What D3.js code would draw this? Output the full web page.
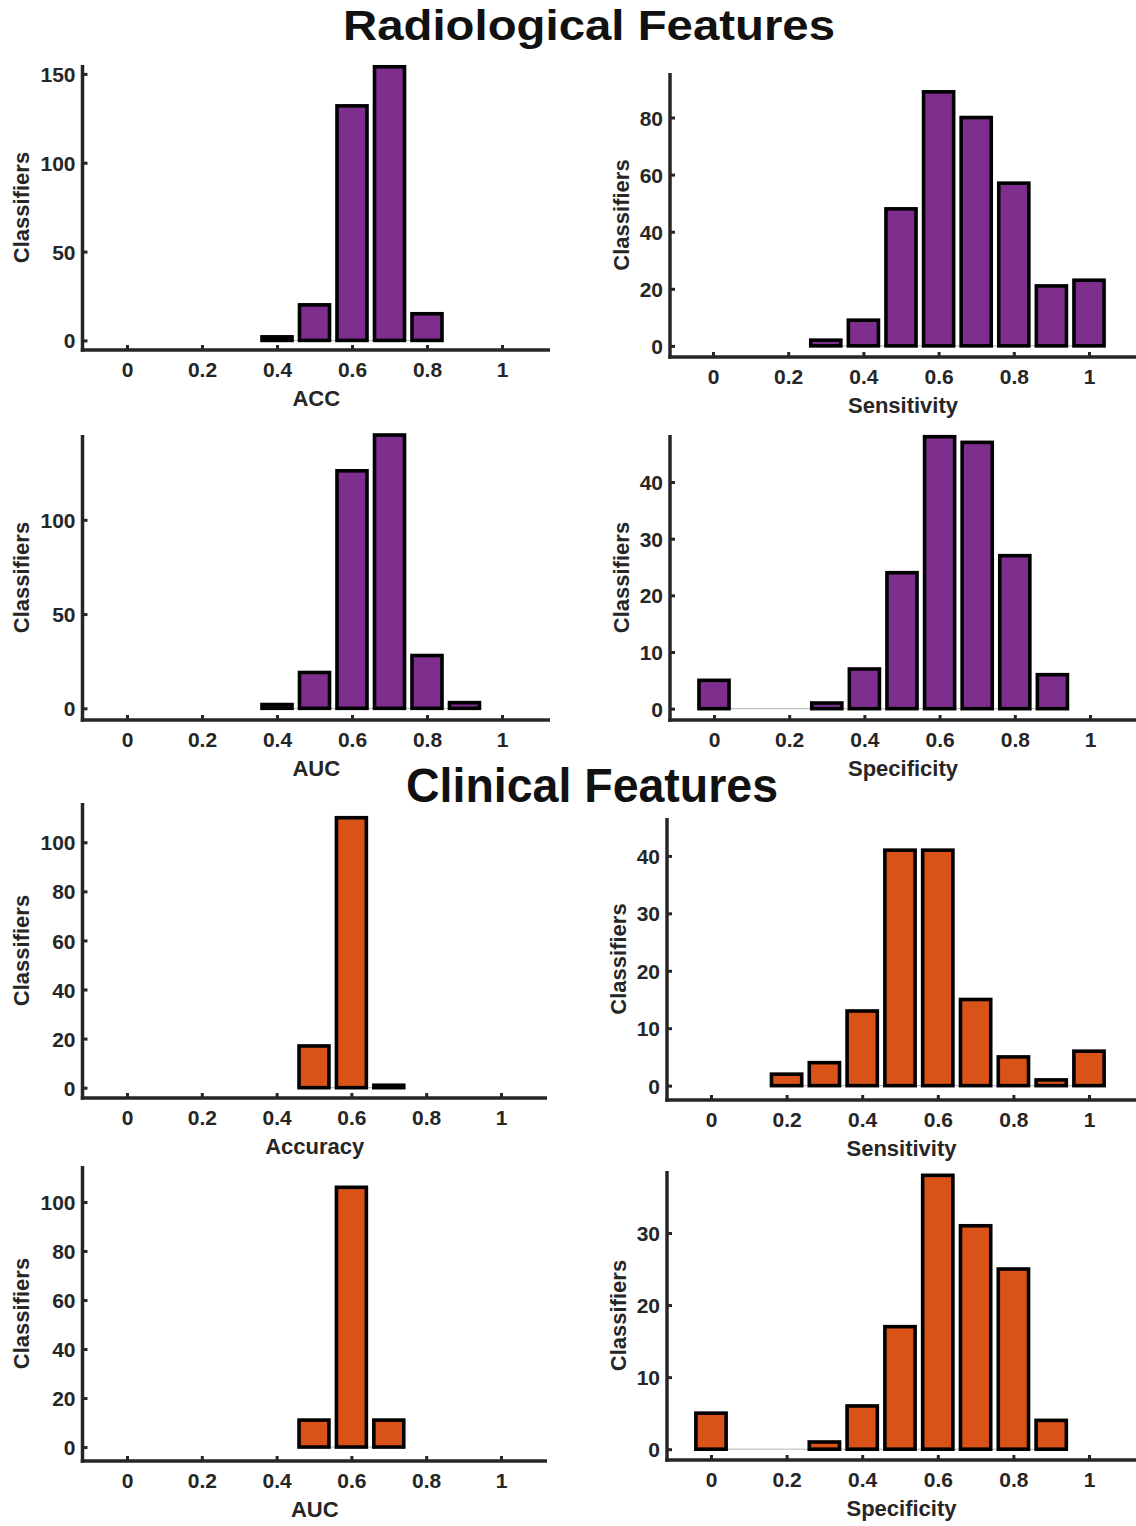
<!DOCTYPE html>
<html>
<head>
<meta charset="utf-8">
<script src="https://cdn.jsdelivr.net/npm/d3@7"></script>
<style>
  html, body { margin: 0; padding: 0; background: #fff; }
  svg { display: block; }
</style>
</head>
<body>
<svg id="chart" width="1136" height="1526"></svg>
<script>
// ---------------- DATA ----------------
const xTicks = [0, 0.2, 0.4, 0.6, 0.8, 1];
const xTickLabels = ["0", "0.2", "0.4", "0.6", "0.8", "1"];

// Radiological features
const binsRadAcc = [0.4, 0.5, 0.6, 0.7, 0.8];
const countsRadAcc = [2, 20, 132, 154, 15];
const yTicksRadAcc = [0, 50, 100, 150];
const yLimRadAcc = [-5.4, 155];

const binsRadSens = [0.3, 0.4, 0.5, 0.6, 0.7, 0.8, 0.9, 1.0];
const countsRadSens = [2, 9, 48, 89, 80, 57, 21, 23];
const yTicksRadSens = [0, 20, 40, 60, 80];
const yLimRadSens = [-3.9, 95.6];

const binsRadAuc = [0.4, 0.5, 0.6, 0.7, 0.8, 0.9];
const countsRadAuc = [2, 19, 126, 145, 28, 3];
const yTicksRadAuc = [0, 50, 100];
const yLimRadAuc = [-6.2, 145];

const binsRadSpec = [0, 0.3, 0.4, 0.5, 0.6, 0.7, 0.8, 0.9];
const countsRadSpec = [5, 1, 7, 24, 48, 47, 27, 6];
const yTicksRadSpec = [0, 10, 20, 30, 40];
const yLimRadSpec = [-2, 48.3];

// Clinical features
const binsCliAcc = [0.5, 0.6, 0.7];
const countsCliAcc = [17, 110, 1];
const yTicksCliAcc = [0, 20, 40, 60, 80, 100];
const yLimCliAcc = [-4.2, 116];

const binsCliSens = [0.2, 0.3, 0.4, 0.5, 0.6, 0.7, 0.8, 0.9, 1.0];
const countsCliSens = [2, 4, 13, 41, 41, 15, 5, 1, 6];
const yTicksCliSens = [0, 10, 20, 30, 40];
const yLimCliSens = [-2.5, 46.6];

const binsCliAuc = [0.5, 0.6, 0.7];
const countsCliAuc = [11, 106, 11];
const yTicksCliAuc = [0, 20, 40, 60, 80, 100];
const yLimCliAuc = [-5.7, 114.7];

const binsCliSpec = [0, 0.3, 0.4, 0.5, 0.6, 0.7, 0.8, 0.9];
const countsCliSpec = [5, 1, 6, 17, 38, 31, 25, 4];
const yTicksCliSpec = [0, 10, 20, 30];
const yLimCliSpec = [-1.5, 38.6];

const xLabels = ["ACC", "Sensitivity", "AUC", "Specificity", "Accuracy", "Sensitivity", "AUC", "Specificity"];
const yLabel = "Classifiers";
const titles = ["Radiological Features", "Clinical Features"];

// ---------------- STYLE / LAYOUT ----------------
const PURPLE = "#7E2F8E";
const ORANGE = "#D95319";
const AXIS = "#262626";
const FONT = "'Liberation Sans', Arial, Helvetica, sans-serif";
const BAR_W = 0.08;

// frame geometry: left/right = axis line extent, top/bottom = y extent, t0/t1 = pixel of x=0 and x=1
const frames = [
  {left: 82.5, right: 550, top: 65,  bottom: 350,  t0: 127, t1: 502},
  {left: 670,  right: 1136, top: 73, bottom: 357,  t0: 713, t1: 1089},
  {left: 82.5, right: 550, top: 435, bottom: 720,  t0: 127, t1: 502},
  {left: 670,  right: 1136, top: 435, bottom: 720, t0: 714, t1: 1090},
  {left: 82.5, right: 547, top: 803, bottom: 1098, t0: 127, t1: 501},
  {left: 667,  right: 1136, top: 818, bottom: 1100, t0: 711, t1: 1089},
  {left: 82.5, right: 547, top: 1166, bottom: 1461, t0: 127, t1: 501},
  {left: 667,  right: 1136, top: 1171, bottom: 1460, t0: 711, t1: 1089}
];

const panels = [
  {bins: binsRadAcc,  counts: countsRadAcc,  yTicks: yTicksRadAcc,  yLim: yLimRadAcc,  color: PURPLE},
  {bins: binsRadSens, counts: countsRadSens, yTicks: yTicksRadSens, yLim: yLimRadSens, color: PURPLE},
  {bins: binsRadAuc,  counts: countsRadAuc,  yTicks: yTicksRadAuc,  yLim: yLimRadAuc,  color: PURPLE},
  {bins: binsRadSpec, counts: countsRadSpec, yTicks: yTicksRadSpec, yLim: yLimRadSpec, color: PURPLE},
  {bins: binsCliAcc,  counts: countsCliAcc,  yTicks: yTicksCliAcc,  yLim: yLimCliAcc,  color: ORANGE},
  {bins: binsCliSens, counts: countsCliSens, yTicks: yTicksCliSens, yLim: yLimCliSens, color: ORANGE},
  {bins: binsCliAuc,  counts: countsCliAuc,  yTicks: yTicksCliAuc,  yLim: yLimCliAuc,  color: ORANGE},
  {bins: binsCliSpec, counts: countsCliSpec, yTicks: yTicksCliSpec, yLim: yLimCliSpec, color: ORANGE}
];

const svg = d3.select("#chart");

// Titles
svg.append("text")
  .attr("x", 589).attr("y", 40)
  .attr("text-anchor", "middle")
  .attr("font-family", FONT).attr("font-weight", "bold")
  .attr("font-size", 42).attr("fill", "#111")
  .attr("textLength", 492).attr("lengthAdjust", "spacingAndGlyphs")
  .text(titles[0]);

svg.append("text")
  .attr("x", 592).attr("y", 802)
  .attr("text-anchor", "middle")
  .attr("font-family", FONT).attr("font-weight", "bold")
  .attr("font-size", 48).attr("fill", "#111")
  .attr("textLength", 372).attr("lengthAdjust", "spacingAndGlyphs")
  .text(titles[1]);

panels.forEach((p, i) => {
  const f = frames[i];
  const x = d3.scaleLinear().domain([0, 1]).range([f.t0, f.t1]);
  const y = d3.scaleLinear().domain(p.yLim).range([f.bottom, f.top]);
  const g = svg.append("g");

  // baseline at y = 0
  const bmin = d3.min(p.bins) - BAR_W / 2, bmax = d3.max(p.bins) + BAR_W / 2;
  g.append("line")
    .attr("x1", x(bmin)).attr("x2", x(bmax))
    .attr("y1", y(0)).attr("y2", y(0))
    .attr("stroke", "#b5b5b5").attr("stroke-width", 1);

  // bars
  g.selectAll("rect.bar")
    .data(p.bins.map((b, k) => ({b, c: p.counts[k]})))
    .join("rect")
    .attr("class", "bar")
    .attr("x", d => x(d.b - BAR_W / 2))
    .attr("width", d => x(d.b + BAR_W / 2) - x(d.b - BAR_W / 2))
    .attr("y", d => y(d.c))
    .attr("height", d => y(0) - y(d.c))
    .attr("fill", p.color)
    .attr("stroke", "#000")
    .attr("stroke-width", 3.6);

  // x axis
  const xAxis = d3.axisBottom(x)
    .tickValues(xTicks)
    .tickFormat((d, k) => xTickLabels[k])
    .tickSize(-5)
    .tickPadding(14);
  const gx = g.append("g")
    .attr("transform", `translate(0,${f.bottom})`)
    .call(xAxis);
  gx.select(".domain").remove();
  gx.selectAll(".tick line").attr("stroke", AXIS).attr("stroke-width", 3);
  gx.selectAll(".tick text")
    .attr("font-family", FONT).attr("font-weight", "bold")
    .attr("font-size", 21).attr("fill", AXIS)
    .attr("dy", "0.71em").attr("y", 12);
  g.append("line")
    .attr("x1", f.left - 1.75).attr("x2", f.right)
    .attr("y1", f.bottom).attr("y2", f.bottom)
    .attr("stroke", AXIS).attr("stroke-width", 3.5);

  // y axis
  const yAxis = d3.axisLeft(y)
    .tickValues(p.yTicks)
    .tickFormat(d3.format("d"))
    .tickSize(-5)
    .tickPadding(12);
  const gy = g.append("g")
    .attr("transform", `translate(${f.left},0)`)
    .call(yAxis);
  gy.select(".domain").remove();
  gy.selectAll(".tick line").attr("stroke", AXIS).attr("stroke-width", 3);
  gy.selectAll(".tick text")
    .attr("font-family", FONT).attr("font-weight", "bold")
    .attr("font-size", 21).attr("fill", AXIS)
    .attr("x", -7).attr("dy", "0.36em");
  g.append("line")
    .attr("x1", f.left).attr("x2", f.left)
    .attr("y1", f.top).attr("y2", f.bottom + 1.75)
    .attr("stroke", AXIS).attr("stroke-width", 3.5);

  // measure widest y tick label
  let maxW = 0;
  gy.selectAll(".tick text").each(function() {
    maxW = Math.max(maxW, this.getComputedTextLength());
  });

  // x label
  g.append("text")
    .attr("x", (f.left + f.right) / 2)
    .attr("y", f.bottom + 56)
    .attr("text-anchor", "middle")
    .attr("font-family", FONT).attr("font-weight", "bold")
    .attr("font-size", 22).attr("fill", AXIS)
    .text(xLabels[i]);

  // y label
  const ylx = f.left - 7 - maxW - 10 - 9;
  const yly = (f.top + f.bottom) / 2;
  g.append("text")
    .attr("transform", `translate(${ylx},${yly}) rotate(-90)`)
    .attr("text-anchor", "middle")
    .attr("dy", "0.36em")
    .attr("font-family", FONT).attr("font-weight", "bold")
    .attr("font-size", 22).attr("fill", AXIS)
    .text(yLabel);
});
</script>
</body>
</html>
